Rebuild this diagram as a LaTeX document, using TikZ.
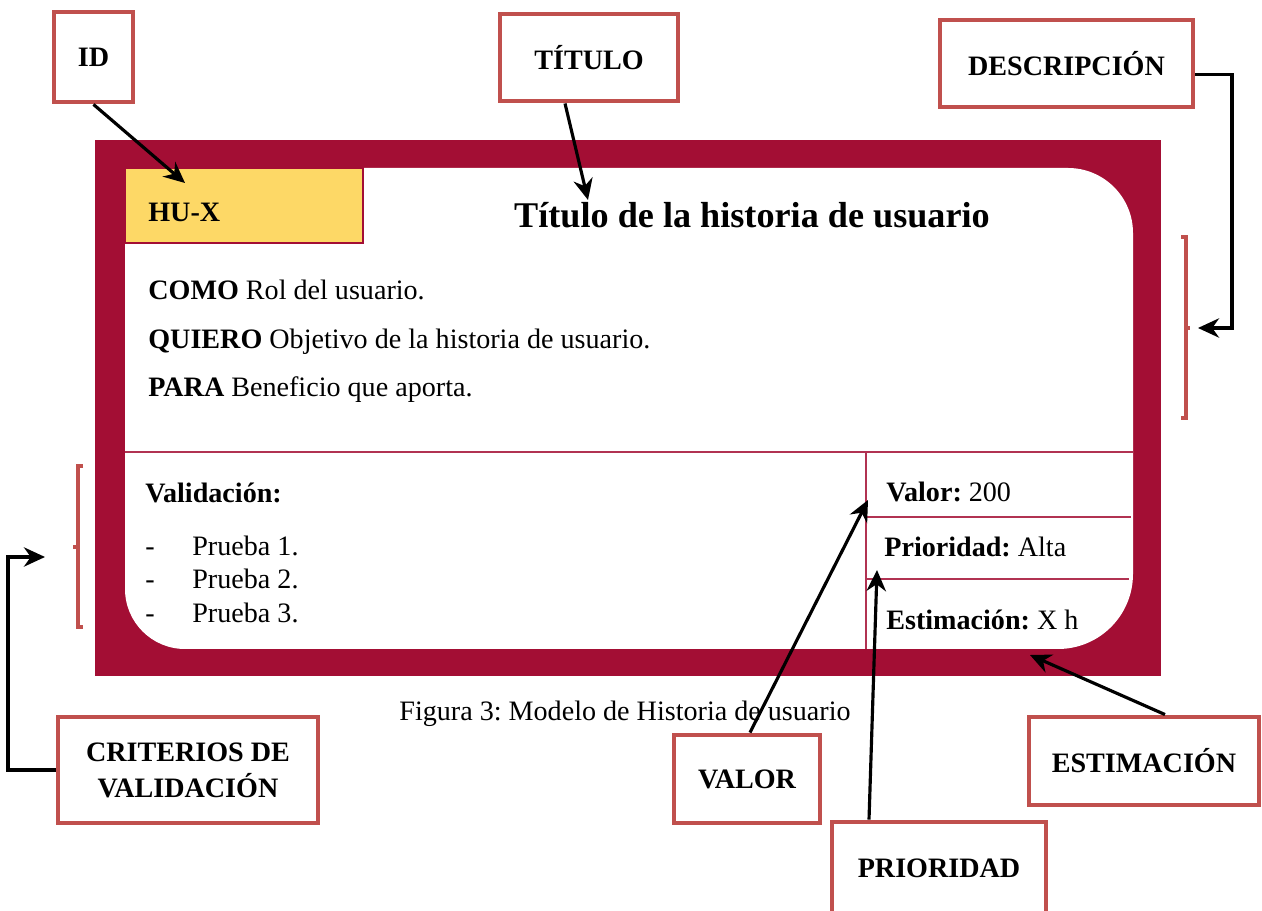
\documentclass[tikz,border=0pt]{standalone}
\usepackage{fontspec}
\setmainfont{Liberation Serif}
\usetikzlibrary{arrows.meta}
\definecolor{frame}{HTML}{A30E34}
\definecolor{gold}{HTML}{FDD866}
\definecolor{boxred}{HTML}{C0504D}
\frenchspacing
\begin{document}
\begin{tikzpicture}[x=0.02cm,y=0.02cm,
  lbl/.style={draw=boxred,line width=2.8pt,font=\fontsize{16}{20.5}\selectfont\bfseries,align=center,inner sep=0pt},
  txt/.style={anchor=base west,inner sep=0pt,font=\fontsize{16}{19}\selectfont},
  arr/.style={-{Stealth[length=12pt,width=11pt]},line width=1.8pt},
  brk/.style={boxred,line width=1.9pt},
  sep/.style={frame!85,line width=0.8pt}]
\useasboundingbox (0,0) rectangle (1262,-911);

% card
\fill[frame] (95,-140) rectangle (1161,-676);
\fill[white] (125,-168) -- (1068,-168) arc[start angle=90,end angle=0,radius=65]
  -- (1133,-574) arc[start angle=0,end angle=-90,radius=75]
  -- (185,-649) arc[start angle=-90,end angle=-180,radius=60] -- cycle;
\filldraw[fill=gold,draw=frame,line width=0.8pt] (125,-168) rectangle (363,-243);
\draw[sep] (125,-452) -- (1133,-452);
\draw[sep] (866,-452) -- (866,-649);
\draw[sep] (866,-517) -- (1131,-517);
\draw[sep] (866,-579) -- (1129,-579);

\node[txt,font=\fontsize{16}{19}\selectfont\bfseries] (hux) at (148,-222) {HU-X};
\node[anchor=base,inner sep=0pt,font=\fontsize{20.6}{24}\selectfont\bfseries] (title) at (752,-228) {Título de la historia de usuario};
\node[txt] (como) at (148,-300) {\textbf{COMO} Rol del usuario.};
\node[txt] (quiero) at (148,-349) {\textbf{QUIERO} Objetivo de la historia de usuario.};
\node[txt] (para) at (148,-397) {\textbf{PARA} Beneficio que aporta.};
\node[txt] (valid) at (145,-503) {\textbf{Validación:}};
\foreach \y/\n in {556/1,589/2,623/3}{
  \node[txt] (dash\n) at (145,-\y) {-};
  \node[txt] (prueba\n) at (192,-\y) {Prueba \n.};
}
\node[txt] (valtxt) at (886,-502) {\textbf{Valor:} 200};
\node[txt] (priotxt) at (884,-557) {\textbf{Prioridad:} Alta};
\node[txt] (esttxt) at (886,-630) {\textbf{Estimación:} X h};
\node[anchor=base,inner sep=0pt,font=\fontsize{16}{19}\selectfont] (caption) at (625,-721) {Figura 3: Modelo de Historia de usuario};

% brackets
\draw[brk] (1181,-237) -- (1186,-237) -- (1186,-418) -- (1181,-418);
\draw[brk] (1186,-328) -- (1190,-328);
\draw[brk] (83,-466) -- (78,-466) -- (78,-627) -- (83,-627);
\draw[brk] (78,-547) -- (73,-547);

% labels
\node[lbl,minimum width=1.58cm,minimum height=1.8cm] (id) at (93.5,-57) {ID};
\node[lbl,minimum width=3.56cm,minimum height=1.74cm] (titulo) at (589,-57.5) {TÍTULO};
\node[lbl,minimum width=5.06cm,minimum height=1.74cm] (descripcion) at (1066.5,-63.5) {DESCRIPCIÓN};
\node[lbl,minimum width=5.2cm,minimum height=2.12cm] (criterios) at (188,-770) {CRITERIOS DE\\VALIDACIÓN};
\node[lbl,minimum width=2.92cm,minimum height=1.76cm] (valor) at (747,-779) {VALOR};
\node[lbl,minimum width=4.28cm,minimum height=1.84cm] (prioridad) at (939,-868) {PRIORIDAD};
\node[lbl,minimum width=4.6cm,minimum height=1.76cm] (estimacion) at (1144,-761) {ESTIMACIÓN};

% arrow tips
\coordinate (idtip) at (185,-183);
\coordinate (tittip) at (588,-200);
\coordinate (desctip) at (1198,-328);
\coordinate (crittip) at (45,-557);
\coordinate (valtip) at (868,-500);
\coordinate (priotip) at (877,-570);
\coordinate (esttip) at (1030,-655);

\draw[arr] (id.south) -- (idtip);
\draw[arr] ([xshift=-0.48cm]titulo.south) -- (tittip);
\draw[arr] ([yshift=-0.22cm]descripcion.east) -| ([xshift=0.68cm]desctip) -- (desctip);
\draw[arr] (criterios.west) -| ([xshift=-0.74cm]crittip) -- (crittip);
\draw[arr] ([xshift=0.06cm]valor.north) -- (valtip);
\draw[arr] ([xshift=-1.4cm]prioridad.north) -- (priotip);
\draw[arr] ([xshift=0.42cm]estimacion.north) -- (esttip);
\end{tikzpicture}
\end{document}
